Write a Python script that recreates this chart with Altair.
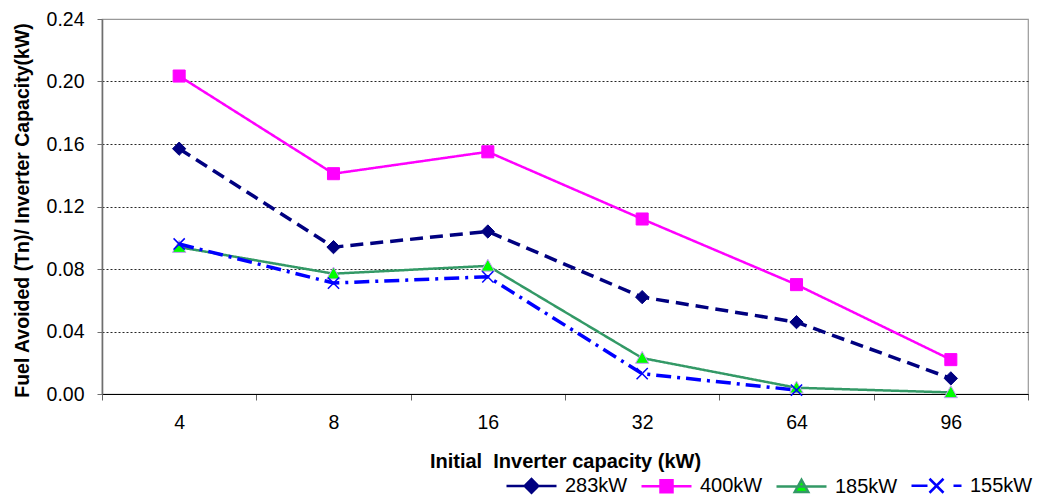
import altair as alt
import pandas as pd

# ---- data ----
categories = ["4", "8", "16", "32", "64", "96"]
series_names = ["283kW", "400kW", "185kW", "155kW"]
s283 = [0.157, 0.094, 0.104, 0.062, 0.046, 0.010]
s400 = [0.2035, 0.141, 0.155, 0.112, 0.070, 0.022]
s185 = [0.094, 0.077, 0.082, 0.023, 0.004, 0.001]
s155 = [0.096, 0.071, 0.075, 0.013, 0.0025, None]
y_ticks = [0.0, 0.04, 0.08, 0.12, 0.16, 0.20, 0.24]

# ---- styles ----
line_colors = ["#000080", "#FF00FF", "#339966", "#0000FF"]
line_dash = [[13, 7], [1, 0], [1, 0], [15, 6, 3, 6]]
line_width = [3.5, 2.5, 2.5, 3.5]
marker_fill = ["#000080", "#FF00FF", "#00FF00", "transparent"]
marker_stroke = ["#000080", "#FF00FF", "#CC99FF", "#0000FF"]
marker_sw = [1, 1, 1, 1.5]
marker_paths = [
    "M-0.95,0L0,-0.95L0.95,0L0,0.95Z",
    "M-0.86,-0.86H0.86V0.86H-0.86Z",
    "M0,-0.95L0.95,0.75H-0.95Z",
    "M-0.8,-0.8L0.8,0.8M-0.8,0.8L0.8,-0.8",
]
legend_paths = [
    "M-1,0H1M-0.27,0L0,-0.27L0.27,0L0,0.27Z",
    "M-1,0H1M-0.24,-0.24H0.24V0.24H-0.24Z",
    "M-1,0H1M0,-0.27L0.27,0.22H-0.27Z",
    "M-1,0H-0.36M0.68,0H1M-0.28,-0.28L0.28,0.28M-0.28,0.28L0.28,-0.28",
]
legend_fill = ["#000080", "#FF00FF", "#00FF00", "transparent"]

rows = []
for name, vals in zip(series_names, [s283, s400, s185, s155]):
    for c, v in zip(categories, vals):
        if v is not None:
            rows.append({"cap": c, "series": name, "value": v})
df = pd.DataFrame(rows)
legend_df = pd.DataFrame({"Series": series_names})

FONT = "Liberation Sans"

x_enc = alt.X(
    "cap:N",
    sort=categories,
    scale=alt.Scale(type="band", domain=categories, paddingInner=0, paddingOuter=0),
    axis=alt.Axis(
        title="Initial\u00a0 Inverter capacity (kW)",
        labelAngle=0,
        tickBand="extent",
        grid=False,
        domainColor="#000000",
        domainWidth=1.2,
        tickColor="#666666",
        tickSize=6,
        labelPadding=13,
        labelFontSize=19.5,
        labelColor="#000000",
        titleFontSize=20,
        titleFontWeight="bold",
        titleColor="#000000",
        titleY=73,
        titleBaseline="alphabetic",
    ),
)
y_enc = alt.Y(
    "value:Q",
    scale=alt.Scale(domain=[0, 0.24], nice=False, zero=True),
    axis=alt.Axis(
        title="Fuel Avoided (Tn)/ Inverter Capacity(kW)",
        values=y_ticks,
        format=".2f",
        grid=True,
        gridColor="#000000",
        gridDash=[2, 2],
        gridWidth=1,
        gridOpacity={"condition": {"test": "datum.value >= 0.239", "value": 0}, "value": 0.85},
        domainColor="#6e6e6e",
        domainWidth=1.6,
        tickColor="#6e6e6e",
        tickSize=5,
        labelPadding=13,
        labelFontSize=19.5,
        labelColor="#000000",
        titleFontSize=19.5,
        titleFontWeight="bold",
        titleColor="#000000",
        titleX=-74,
        titleY=191,
        titleBaseline="alphabetic",
    ),
)

base = alt.Chart(df)
layers = []
for i, name in enumerate(series_names):
    sub = base.transform_filter(alt.datum.series == name)
    layers.append(
        sub.mark_line(
            color=line_colors[i],
            strokeDash=line_dash[i],
            strokeWidth=line_width[i],
            strokeCap="butt",
        ).encode(x=x_enc, y=y_enc)
    )
    layers.append(
        sub.mark_point(
            shape=marker_paths[i],
            size=196,
            fill=marker_fill[i],
            stroke=marker_stroke[i],
            strokeWidth=marker_sw[i],
            opacity=1,
            filled=False,
        ).encode(x=x_enc, y=y_enc)
    )

leg = alt.Legend(
    title=None,
    orient="none",
    legendX=403,
    legendY=440,
    direction="horizontal",
    columns=4,
    symbolSize=2500,
    symbolStrokeWidth=2.5,
    symbolOpacity=1,
    labelFontSize=20,
    labelFont=FONT,
    labelColor="#000000",
    labelOffset=7,
    labelLimit=200,
    columnPadding=8,
)
legend_layer = alt.Chart(legend_df).mark_point(
    opacity=0, size=2500, filled=True, strokeWidth=2.5
).encode(
    x=alt.value(0),
    y=alt.value(0),
    shape=alt.Shape("Series:N", scale=alt.Scale(domain=series_names, range=legend_paths), legend=leg),
    stroke=alt.Stroke("Series:N", scale=alt.Scale(domain=series_names, range=line_colors), legend=leg),
    fill=alt.Fill("Series:N", scale=alt.Scale(domain=series_names, range=legend_fill), legend=leg),
)

chart = (
    alt.layer(*layers, legend_layer)
    .properties(
        width=926,
        height=375,
        autosize=alt.AutoSizeParams(type="none"),
        padding={"left": 94, "top": 11, "right": 5, "bottom": 101},
        background="white",
    )
    .configure(font=FONT)
    .configure_view(stroke="#999999", strokeWidth=1.2)
)

chart.save("out.html", embed_options={"renderer": "svg", "actions": False})
